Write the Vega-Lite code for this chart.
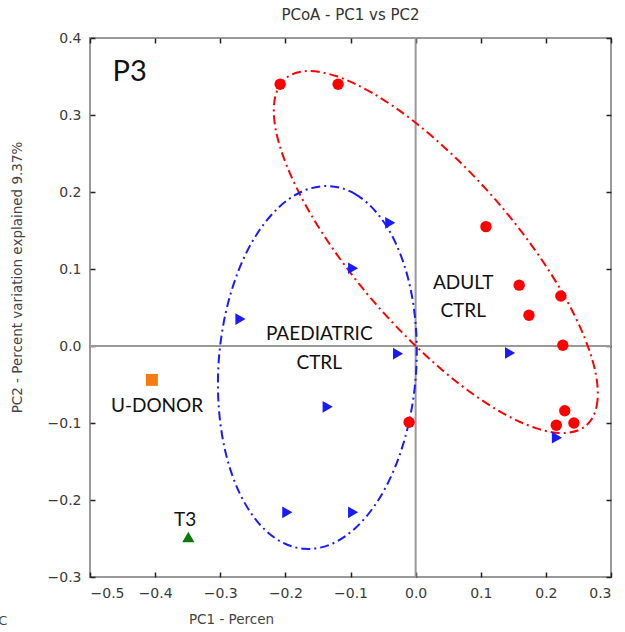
{
  "$schema": "https://vega.github.io/schema/vega-lite/v6.json",
  "width": 521,
  "height": 539,
  "autosize": {"type": "none"},
  "padding": {"left": 90, "top": 38, "right": 14, "bottom": 55},
  "background": "white",
  "title": {"text": "PCoA - PC1 vs PC2", "font": "DejaVu Sans", "fontSize": 15, "fontWeight": "normal", "color": "#333", "offset": 8},
  "config": {
    "view": {"stroke": "#999", "strokeWidth": 2},
    "axis": {"grid": false, "domain": false, "tickColor": "#222", "tickWidth": 1.5, "tickSize": -5, "labelFont": "DejaVu Sans", "labelFontSize": 14, "labelColor": "#3a3a3a", "titleFont": "DejaVu Sans", "titleFontSize": 13.5, "titleFontWeight": "normal", "titleColor": "#444"}
  },
  "datasets": {
    "pts": [
      {"group": "ADULT", "x": -0.208, "y": 0.340},
      {"group": "ADULT", "x": -0.119, "y": 0.340},
      {"group": "ADULT", "x": 0.108, "y": 0.155},
      {"group": "ADULT", "x": 0.159, "y": 0.079},
      {"group": "ADULT", "x": 0.223, "y": 0.065},
      {"group": "ADULT", "x": 0.174, "y": 0.040},
      {"group": "ADULT", "x": 0.226, "y": 0.001},
      {"group": "ADULT", "x": 0.229, "y": -0.084},
      {"group": "ADULT", "x": 0.216, "y": -0.103},
      {"group": "ADULT", "x": 0.243, "y": -0.100},
      {"group": "ADULT", "x": -0.010, "y": -0.099},
      {"group": "PAEDIATRIC", "x": -0.039, "y": 0.160},
      {"group": "PAEDIATRIC", "x": -0.096, "y": 0.101},
      {"group": "PAEDIATRIC", "x": -0.269, "y": 0.035},
      {"group": "PAEDIATRIC", "x": -0.027, "y": -0.010},
      {"group": "PAEDIATRIC", "x": 0.145, "y": -0.009},
      {"group": "PAEDIATRIC", "x": -0.135, "y": -0.079},
      {"group": "PAEDIATRIC", "x": 0.217, "y": -0.119},
      {"group": "PAEDIATRIC", "x": -0.197, "y": -0.216},
      {"group": "PAEDIATRIC", "x": -0.096, "y": -0.216},
      {"group": "U-DONOR", "x": -0.405, "y": -0.044},
      {"group": "T3", "x": -0.349, "y": -0.248}
    ],
    "ell": [
      {"group": "ADULT", "t": 0, "x": 0.2618, "y": -0.1034},
      {"group": "ADULT", "t": 15, "x": 0.2779, "y": -0.0784},
      {"group": "ADULT", "t": 30, "x": 0.2774, "y": -0.0398},
      {"group": "ADULT", "t": 45, "x": 0.2599, "y": 0.0098},
      {"group": "ADULT", "t": 60, "x": 0.2269, "y": 0.0671},
      {"group": "ADULT", "t": 75, "x": 0.1804, "y": 0.1281},
      {"group": "ADULT", "t": 90, "x": 0.1239, "y": 0.1887},
      {"group": "ADULT", "t": 105, "x": 0.0610, "y": 0.2447},
      {"group": "ADULT", "t": 120, "x": -0.0039, "y": 0.2925},
      {"group": "ADULT", "t": 135, "x": -0.0665, "y": 0.3286},
      {"group": "ADULT", "t": 150, "x": -0.1224, "y": 0.3506},
      {"group": "ADULT", "t": 165, "x": -0.1679, "y": 0.3570},
      {"group": "ADULT", "t": 180, "x": -0.1998, "y": 0.3474},
      {"group": "ADULT", "t": 195, "x": -0.2159, "y": 0.3224},
      {"group": "ADULT", "t": 210, "x": -0.2154, "y": 0.2838},
      {"group": "ADULT", "t": 225, "x": -0.1979, "y": 0.2342},
      {"group": "ADULT", "t": 240, "x": -0.1649, "y": 0.1769},
      {"group": "ADULT", "t": 255, "x": -0.1184, "y": 0.1159},
      {"group": "ADULT", "t": 270, "x": -0.0619, "y": 0.0553},
      {"group": "ADULT", "t": 285, "x": 0.0010, "y": -0.0007},
      {"group": "ADULT", "t": 300, "x": 0.0659, "y": -0.0485},
      {"group": "ADULT", "t": 315, "x": 0.1285, "y": -0.0846},
      {"group": "ADULT", "t": 330, "x": 0.1844, "y": -0.1066},
      {"group": "ADULT", "t": 345, "x": 0.2299, "y": -0.1130},
      {"group": "PAEDIATRIC", "t": 0, "x": -0.1312, "y": 0.2076},
      {"group": "PAEDIATRIC", "t": 15, "x": -0.0927, "y": 0.1973},
      {"group": "PAEDIATRIC", "t": 30, "x": -0.0581, "y": 0.1715},
      {"group": "PAEDIATRIC", "t": 45, "x": -0.0299, "y": 0.1323},
      {"group": "PAEDIATRIC", "t": 60, "x": -0.0099, "y": 0.0822},
      {"group": "PAEDIATRIC", "t": 75, "x": 0.0004, "y": 0.0244},
      {"group": "PAEDIATRIC", "t": 90, "x": 0.0005, "y": -0.0368},
      {"group": "PAEDIATRIC", "t": 105, "x": -0.0098, "y": -0.0974},
      {"group": "PAEDIATRIC", "t": 120, "x": -0.0297, "y": -0.1534},
      {"group": "PAEDIATRIC", "t": 135, "x": -0.0577, "y": -0.2007},
      {"group": "PAEDIATRIC", "t": 150, "x": -0.0923, "y": -0.2363},
      {"group": "PAEDIATRIC", "t": 165, "x": -0.1307, "y": -0.2577},
      {"group": "PAEDIATRIC", "t": 180, "x": -0.1706, "y": -0.2634},
      {"group": "PAEDIATRIC", "t": 195, "x": -0.2091, "y": -0.2531},
      {"group": "PAEDIATRIC", "t": 210, "x": -0.2437, "y": -0.2273},
      {"group": "PAEDIATRIC", "t": 225, "x": -0.2719, "y": -0.1881},
      {"group": "PAEDIATRIC", "t": 240, "x": -0.2919, "y": -0.1380},
      {"group": "PAEDIATRIC", "t": 255, "x": -0.3022, "y": -0.0802},
      {"group": "PAEDIATRIC", "t": 270, "x": -0.3023, "y": -0.0190},
      {"group": "PAEDIATRIC", "t": 285, "x": -0.2920, "y": 0.0416},
      {"group": "PAEDIATRIC", "t": 300, "x": -0.2721, "y": 0.0976},
      {"group": "PAEDIATRIC", "t": 315, "x": -0.2441, "y": 0.1449},
      {"group": "PAEDIATRIC", "t": 330, "x": -0.2095, "y": 0.1805},
      {"group": "PAEDIATRIC", "t": 345, "x": -0.1711, "y": 0.2019}
    ],
    "zero": [{"v": 0}],
    "labels": [
      {"text": "ADULT", "x": 0.073, "y": 0.082},
      {"text": "CTRL", "x": 0.073, "y": 0.045},
      {"text": "PAEDIATRIC", "x": -0.148, "y": 0.015},
      {"text": "CTRL", "x": -0.148, "y": -0.022},
      {"text": "U-DONOR", "x": -0.397, "y": -0.078},
      {"text": "T3", "x": -0.354, "y": -0.226}
    ],
    "big": [{"text": "P3", "x": -0.439, "y": 0.356}],
    "edge": [{"text": "C", "x": -0.634, "y": -0.357}]
  },
  "resolve": {"axis": {"x": "independent", "y": "independent"}},
  "layer": [
    {
      "data": {"name": "zero"},
      "mark": {"type": "rule", "stroke": "#999", "strokeWidth": 2},
      "encoding": {"x": {"field": "v", "type": "quantitative", "scale": {"domain": [-0.5, 0.3], "nice": false, "zero": false}, "axis": null}}
    },
    {
      "data": {"name": "zero"},
      "mark": {"type": "rule", "stroke": "#999", "strokeWidth": 2},
      "encoding": {"y": {"field": "v", "type": "quantitative", "scale": {"domain": [-0.3, 0.4], "nice": false, "zero": false}, "axis": null}}
    },
    {
      "data": {"name": "ell"},
      "mark": {"type": "line", "interpolate": "cardinal-closed", "strokeWidth": 2, "strokeDash": [9, 4, 2, 4]},
      "encoding": {
        "x": {"field": "x", "type": "quantitative",
              "axis": {"orient": "top", "labels": false, "title": null, "values": [-0.5, -0.4, -0.3, -0.2, -0.1, 0, 0.1, 0.2, 0.3]}},
        "y": {"field": "y", "type": "quantitative",
              "axis": {"orient": "right", "labels": false, "title": null, "values": [-0.3, -0.2, -0.1, 0, 0.1, 0.2, 0.3, 0.4]}},
        "color": {"field": "group", "type": "nominal", "legend": null,
                  "scale": {"domain": ["ADULT", "PAEDIATRIC", "U-DONOR", "T3"], "range": ["#ff0000", "#1a1aff", "#f47a12", "#0a7a0a"]}},
        "order": {"field": "t", "type": "quantitative"}
      }
    },
    {
      "data": {"name": "pts"},
      "mark": {"type": "point", "filled": true, "opacity": 1},
      "encoding": {
        "x": {"field": "x", "type": "quantitative",
              "axis": {"orient": "bottom", "format": ".1f", "values": [-0.5, -0.4, -0.3, -0.2, -0.1, 0, 0.1, 0.2, 0.3], "title": "PC1 - Percen", "titleX": 141, "titleY": 42, "titleAnchor": null, "titleAlign": "center", "titleBaseline": "middle", "labelPadding": 14}},
        "y": {"field": "y", "type": "quantitative",
              "axis": {"orient": "left", "format": ".1f", "values": [-0.3, -0.2, -0.1, 0, 0.1, 0.2, 0.3, 0.4], "title": "PC2 - Percent variation explained 9.37%", "titleX": -73, "titleY": 239, "titleAngle": 270, "titleAlign": "center", "titleBaseline": "middle", "labelPadding": 14}},
        "color": {"field": "group", "type": "nominal", "legend": null},
        "shape": {"field": "group", "type": "nominal", "legend": null,
                  "scale": {"domain": ["ADULT", "PAEDIATRIC", "U-DONOR", "T3"], "range": ["circle", "triangle-right", "square", "triangle-up"]}},
        "size": {"field": "group", "type": "nominal", "legend": null,
                 "scale": {"domain": ["ADULT", "PAEDIATRIC", "U-DONOR", "T3"], "range": [130, 150, 80, 150]}}
      }
    },
    {
      "data": {"name": "labels"},
      "mark": {"type": "text", "font": "Lato", "fontSize": 19, "color": "#111", "align": "center", "baseline": "middle"},
      "encoding": {
        "x": {"field": "x", "type": "quantitative", "axis": null},
        "y": {"field": "y", "type": "quantitative", "axis": null},
        "text": {"field": "text"}
      }
    },
    {
      "data": {"name": "big"},
      "mark": {"type": "text", "font": "Lato", "fontSize": 29, "color": "#111", "align": "center", "baseline": "middle"},
      "encoding": {
        "x": {"field": "x", "type": "quantitative", "axis": null},
        "y": {"field": "y", "type": "quantitative", "axis": null},
        "text": {"field": "text"}
      }
    },
    {
      "data": {"name": "edge"},
      "mark": {"type": "text", "font": "DejaVu Sans", "fontSize": 13, "color": "#444", "align": "center", "baseline": "middle", "clip": false},
      "encoding": {
        "x": {"field": "x", "type": "quantitative", "axis": null},
        "y": {"field": "y", "type": "quantitative", "axis": null},
        "text": {"field": "text"}
      }
    }
  ]
}
